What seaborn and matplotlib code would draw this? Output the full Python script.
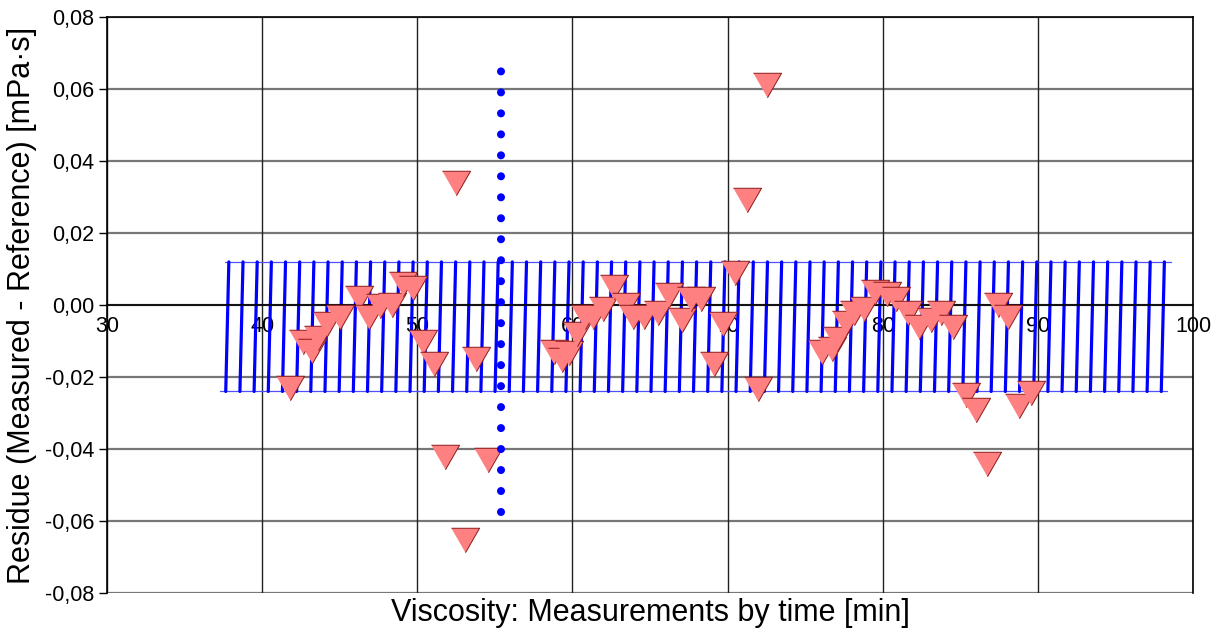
import numpy as np
import pandas as pd
import matplotlib
matplotlib.use("Agg")
import matplotlib.pyplot as plt
import seaborn as sns

# ---- data ----
time_min = [41.78, 42.62, 43.2, 43.6, 44.17, 45.0, 46.23, 46.87, 47.58, 48.35,
            49.06, 49.7, 50.35, 51.06, 51.76, 52.47, 53.05, 53.76, 54.53,
            58.78, 59.3, 59.75, 60.26, 60.78, 61.3, 61.94, 62.65, 63.48, 63.87,
            64.64, 65.48, 66.25, 67.03, 67.67, 68.31, 69.09, 69.73, 70.5, 71.27,
            71.98, 72.56, 76.1, 76.75, 77.07, 77.65, 78.17, 78.81, 79.5, 80.3,
            80.87, 81.64, 82.35, 83.12, 83.77, 84.54, 85.38, 86.02, 86.73,
            87.44, 88.08, 88.79, 89.56]
residue = [-0.0231, -0.0103, -0.0128, -0.0092, -0.0053, -0.0033, 0.0019, -0.0033,
           -0.0003, 0.0, 0.0058, 0.0047, -0.0103, -0.0164, -0.0422, 0.0339,
           -0.0653, -0.015, -0.0431,
           -0.0131, -0.0153, -0.0133, -0.0081, -0.0033, -0.0033, -0.0011, 0.005,
           0.0, -0.0033, -0.0033, -0.0022, 0.0028, -0.0042, 0.0017, 0.0017,
           -0.0164, -0.0053, 0.0089, 0.0292, -0.0233, 0.0611,
           -0.013, -0.0122, -0.0094, -0.005, -0.0022, -0.0011, 0.0036, 0.003,
           0.0017, -0.0022, -0.0061, -0.0042, -0.0022, -0.0061, -0.025, -0.0292,
           -0.0442, 0.0, -0.0033, -0.0281, -0.0244]

band_upper = 0.012
band_lower = -0.024
band_x_start = 37.6
band_x_end = 98.6
n_hatch = 67

marker_line_x = 55.4
marker_line_y = [-0.0575, 0.0683]

x_ticks = [30, 40, 50, 60, 70, 80, 90, 100]
y_ticks = [-0.08, -0.06, -0.04, -0.02, 0.0, 0.02, 0.04, 0.06, 0.08]
y_tick_labels = ["-0,08", "-0,06", "-0,04", "-0,02", "0,00", "0,02", "0,04", "0,06", "0,08"]

df = pd.DataFrame({"time": time_min, "residue": residue})

# ---- style ----
sns.set_theme(style="white")
plt.rcParams["font.family"] = ["Liberation Sans", "DejaVu Sans"]
plt.rcParams["text.color"] = "black"
plt.rcParams["axes.labelcolor"] = "black"
plt.rcParams["xtick.color"] = "black"
plt.rcParams["ytick.color"] = "black"

fig = plt.figure(figsize=(12.11, 6.36), dpi=100)
ax = fig.add_axes([0.0884, 0.0676, 0.8968, 0.9054])

ax.set_xlim(30, 100)
ax.set_ylim(-0.08, 0.08)

# grid
for yv in y_ticks:
    ax.axhline(yv, color="#777777", lw=1.6, zorder=0)
for xv in x_ticks:
    ax.axvline(xv, color="#222222", lw=1.0, zorder=0)

# hatched band (sawtooth of near-vertical strokes between limits)
ax.plot([band_x_start, band_x_end], [band_upper, band_upper], color="#5050ff", lw=0.9, zorder=1)
ax.plot([band_x_start - 0.3, band_x_end - 0.3], [band_lower, band_lower], color="#5050ff", lw=0.9, zorder=1)
hx = np.linspace(band_x_start + 0.25, band_x_end - 0.45, n_hatch)
for xv in hx:
    ax.plot([xv - 0.2, xv], [band_lower, band_upper], color="#0000ff", lw=2.3, zorder=2)

# scatter of residues
tri = [(-1, 0.87), (1, 0.87), (0, -0.87)]
sns.scatterplot(data=df, x="time", y="residue", marker=tri, s=410,
                color="#ff8080", edgecolor="#8b1a1a", linewidth=0.7,
                ax=ax, zorder=3, legend=False)

# dotted vertical line
lw_dot = 5.8
ax.plot([marker_line_x, marker_line_x], marker_line_y, color="#0000ff",
        lw=lw_dot, linestyle=(0, (0.001, 15.1 / lw_dot)),
        dash_capstyle="round", zorder=4)

# spines / axes
ax.spines["bottom"].set_position(("data", 0))
for s in ["left", "right", "top", "bottom"]:
    ax.spines[s].set_color("black")
    ax.spines[s].set_linewidth(1.2)

ax.set_xticks(x_ticks)
ax.set_xticklabels([str(v) for v in x_ticks], fontsize=15.5, color="black")
ax.set_yticks(y_ticks)
ax.set_yticklabels(y_tick_labels, fontsize=15.5, color="black")
ax.tick_params(axis="y", direction="out", length=6, width=1, color="black", pad=3, left=True)
ax.tick_params(axis="x", direction="out", length=0, pad=8, bottom=True)

ax.set_xlabel("")
ax.set_ylabel("Residue (Measured - Reference) [mPa·s]", fontsize=22, labelpad=6, color="black")
fig.text(0.5 * (0.0884 + 0.985), 0.036, "Viscosity: Measurements by time [min]",
         ha="center", va="center", fontsize=22, color="black")

fig.savefig("out.png", dpi=100, facecolor="white")
